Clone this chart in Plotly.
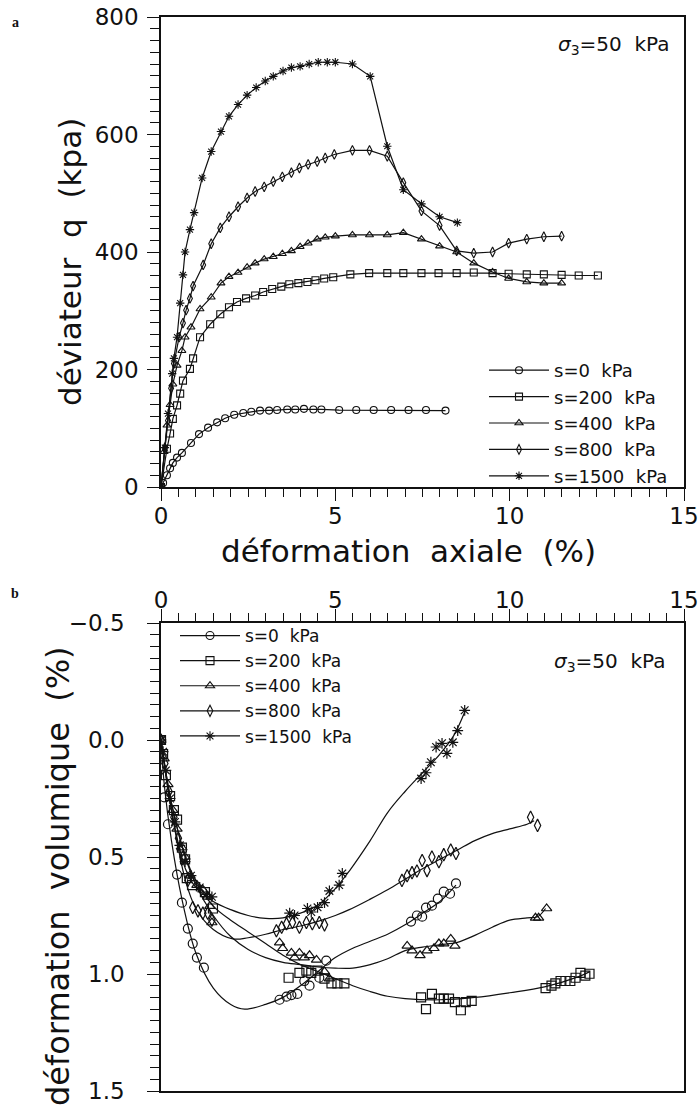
import plotly.graph_objects as go

# ---------------- Panel a : deviator q (kPa) vs axial strain (%) ----------------
a_s0_x = [0, 0.06, 0.17, 0.26, 0.34, 0.46, 0.6, 0.86, 1.09, 1.35, 1.61, 1.84, 2.1, 2.36, 2.59, 2.84,
          3.1, 3.33, 3.62, 3.85, 4.1, 4.37, 4.6, 5.11, 5.6, 6.1, 6.6, 7.1, 7.6, 8.16]
a_s0_y = [0, 7, 20, 32, 41, 50, 58, 75, 90, 101, 110, 117, 123, 126, 128, 130,
          130, 131, 132, 132, 133, 132, 132, 131, 131, 131, 131, 131, 131, 130]

a_s200_x = [0, 0.17, 0.26, 0.34, 0.46, 0.55, 0.63, 0.83, 0.92, 1.12, 1.41, 1.7, 1.95, 2.18, 2.44, 2.7,
            2.93, 3.19, 3.45, 3.68, 3.94, 4.2, 4.43, 4.68, 4.94, 5.43, 5.97, 6.49, 6.95, 7.47, 7.96,
            8.48, 8.97, 9.51, 9.97, 10.49, 10.98, 11.49, 11.98, 12.53]
a_s200_y = [0, 65, 91, 116, 139, 159, 181, 201, 219, 255, 277, 294, 306, 315, 321, 326,
            332, 337, 341, 345, 347, 349, 352, 355, 357, 362, 364, 364, 364, 364, 364,
            364, 365, 364, 363, 362, 362, 361, 360, 360]

a_s400_x = [0, 0.09, 0.17, 0.26, 0.34, 0.46, 0.6, 0.69, 0.86, 1.12, 1.44, 1.72, 1.95, 2.21, 2.47, 2.7,
            2.96, 3.22, 3.48, 3.74, 3.99, 4.22, 4.48, 4.71, 5.0, 5.49, 5.98, 6.49, 6.95, 7.47, 7.99,
            8.48, 8.97, 9.51, 9.97, 10.49, 10.98, 11.49]
a_s400_y = [0, 60, 105, 140, 175, 207, 232, 255, 272, 303, 323, 347, 358, 365, 374, 381,
            388, 392, 397, 402, 409, 415, 422, 425, 427, 429, 429, 429, 433, 422, 410,
            400, 381, 366, 355, 349, 347, 347]

a_s800_x = [0, 0.11, 0.2, 0.29, 0.37, 0.52, 0.63, 0.72, 0.83, 0.92, 1.21, 1.44, 1.7, 1.95, 2.21, 2.47,
            2.7, 2.96, 3.22, 3.48, 3.74, 3.97, 4.22, 4.48, 4.71, 4.97, 5.49, 5.98, 6.49, 6.95, 7.47,
            7.99, 8.48, 8.97, 9.51, 9.97, 10.49, 10.98, 11.49]
a_s800_y = [0, 67, 113, 168, 210, 255, 279, 301, 321, 342, 378, 414, 441, 460, 477, 492,
            503, 511, 520, 528, 535, 543, 549, 554, 560, 566, 573, 573, 563, 518, 470,
            445, 402, 398, 400, 415, 422, 426, 427]

a_s1500_x = [0, 0.11, 0.2, 0.32, 0.37, 0.46, 0.55, 0.63, 0.69, 0.83, 0.95, 1.18, 1.44, 1.72, 1.95,
             2.21, 2.47, 2.73, 2.99, 3.22, 3.5, 3.74, 3.99, 4.25, 4.51, 4.77, 5.0, 5.49, 6.0, 6.49,
             6.95, 7.47, 7.99, 8.5]
a_s1500_y = [0, 67, 125, 193, 219, 255, 313, 361, 400, 438, 467, 526, 571, 605, 631,
             651, 667, 680, 691, 699, 708, 714, 716, 720, 723, 723, 723, 720, 699, 580,
             506, 482, 460, 450]

# ---------------- Panel b : volumetric strain (%) vs axial strain (%) ----------------
b_s0_x = [0, 0.09, 0.2, 0.46, 0.6, 0.77, 0.91, 1.03, 1.23, 3.4, 3.6, 3.74, 3.91, 4.11, 4.26, 4.54,
          4.74, 7.17, 7.34, 7.49, 7.6, 7.77, 7.94, 8.11, 8.29, 8.46]
b_s0_y = [0, 0.245, 0.36, 0.575, 0.695, 0.806, 0.87, 0.93, 0.973, 1.11, 1.097, 1.09, 1.085, 1.03,
          1.05, 1.016, 0.943, 0.776, 0.75, 0.755, 0.716, 0.708, 0.678, 0.648, 0.657, 0.613]
b_s0_fx = [0, 0.1, 0.3, 0.6, 1.0, 1.5, 2.0, 2.4, 3.0, 3.5, 4.0, 4.5, 5.0, 5.5, 6.0, 6.5, 7.0, 7.5,
           8.0, 8.46]
b_s0_fy = [0, 0.2, 0.43, 0.68, 0.91, 1.06, 1.13, 1.15, 1.13, 1.1, 1.05, 0.99, 0.93, 0.89, 0.86,
           0.83, 0.79, 0.74, 0.69, 0.62]

b_s200_x = [0, 0.06, 0.14, 0.26, 0.37, 0.46, 0.6, 0.69, 0.74, 0.89, 1.26, 1.49, 3.66, 3.97, 4.17,
            4.31, 4.49, 4.69, 4.89, 5.06, 5.26, 7.46, 7.6, 7.77, 7.97, 8.11, 8.26, 8.43, 8.6, 8.74,
            8.91, 11.03, 11.2, 11.31, 11.46, 11.6, 11.74, 11.89, 12.03, 12.17, 12.29]
b_s200_y = [0, 0.06, 0.15, 0.24, 0.3, 0.34, 0.46, 0.51, 0.59, 0.62, 0.65, 0.72, 1.016, 0.995,
            0.986, 0.995, 0.986, 1.02, 1.04, 1.04, 1.04, 1.1, 1.15, 1.085, 1.105, 1.105, 1.105,
            1.12, 1.155, 1.12, 1.115, 1.06, 1.05, 1.04, 1.03, 1.03, 1.03, 1.016, 0.995, 1.007, 0.999]
b_s200_fx = [0, 0.3, 0.7, 1.0, 1.5, 2.0, 2.5, 3.0, 3.5, 4.0, 4.5, 5.0, 5.5, 6.0, 6.5, 7.0, 8.0,
             9.0, 10.0, 11.0, 12.0, 12.3]
b_s200_fy = [0, 0.27, 0.5, 0.6, 0.71, 0.77, 0.82, 0.87, 0.92, 0.96, 0.99, 1.02, 1.05, 1.075,
             1.095, 1.105, 1.11, 1.1, 1.08, 1.055, 1.01, 0.99]

b_s400_x = [0, 0.09, 0.2, 0.34, 0.46, 0.6, 0.69, 0.83, 1.03, 1.2, 1.34, 1.4, 1.46, 3.4, 3.49, 3.74,
            3.83, 3.97, 4.11, 4.26, 4.46, 4.69, 4.83, 7.06, 7.2, 7.43, 7.63, 7.83, 7.97, 8.11, 8.31,
            8.43, 10.74, 10.83, 11.06]
b_s400_y = [0, 0.08, 0.19, 0.3, 0.38, 0.46, 0.5, 0.58, 0.62, 0.64, 0.67, 0.71, 0.78, 0.866, 0.89,
            0.91, 0.93, 0.91, 0.93, 0.92, 0.94, 0.99, 1.02, 0.88, 0.9, 0.92, 0.9, 0.89, 0.87, 0.87,
            0.85, 0.88, 0.76, 0.76, 0.72]
b_s400_fx = [0, 0.3, 0.7, 1.0, 1.5, 2.0, 2.5, 3.0, 3.5, 4.0, 4.5, 5.0, 5.5, 6.0, 6.5, 7.0, 7.5,
             8.0, 8.5, 9.0, 9.5, 10.0, 10.5, 10.8, 11.03]
b_s400_fy = [0, 0.27, 0.5, 0.62, 0.75, 0.84, 0.895, 0.93, 0.95, 0.96, 0.97, 0.975, 0.975, 0.96,
             0.935, 0.9, 0.885, 0.875, 0.865, 0.835, 0.8, 0.77, 0.76, 0.755, 0.72]

b_s800_x = [0, 0.11, 0.23, 0.37, 0.5, 0.63, 0.77, 0.91, 1.06, 1.2, 1.34, 1.46, 3.31, 3.46, 3.6,
            3.77, 3.97, 4.17, 4.34, 4.54, 4.69, 6.91, 7.06, 7.2, 7.34, 7.49, 7.63, 7.77, 7.97, 8.11,
            8.31, 8.46, 10.6, 10.8]
b_s800_y = [0, 0.1, 0.22, 0.33, 0.42, 0.5, 0.6, 0.716, 0.73, 0.74, 0.74, 0.77, 0.815, 0.8, 0.785,
            0.78, 0.8, 0.78, 0.785, 0.78, 0.79, 0.6, 0.58, 0.567, 0.56, 0.515, 0.558, 0.5, 0.52,
            0.49, 0.47, 0.485, 0.33, 0.365]
b_s800_fx = [0, 0.3, 0.7, 1.0, 1.5, 2.06, 2.5, 3.0, 3.5, 4.0, 4.5, 5.0, 5.4, 6.0, 6.5, 7.0, 7.5,
             8.0, 8.5, 9.0, 9.5, 10.0, 10.5, 10.7]
b_s800_fy = [0, 0.3, 0.6, 0.72, 0.81, 0.85, 0.845, 0.83, 0.81, 0.795, 0.775, 0.75, 0.725, 0.68,
             0.64, 0.595, 0.55, 0.51, 0.47, 0.43, 0.4, 0.38, 0.36, 0.345]

b_s1500_x = [0, 0.06, 0.14, 0.26, 0.4, 0.54, 0.69, 0.86, 1.11, 1.3, 1.46, 3.69, 3.83, 4.2, 4.31,
             4.49, 4.69, 4.83, 5.11, 5.2, 7.46, 7.6, 7.74, 7.89, 8.06, 8.2, 8.37, 8.51, 8.71]
b_s1500_y = [0, 0.05, 0.13, 0.25, 0.35, 0.45, 0.52, 0.58, 0.63, 0.66, 0.67, 0.74, 0.75, 0.72,
             0.735, 0.715, 0.695, 0.645, 0.62, 0.57, 0.165, 0.14, 0.095, 0.03, 0.014, 0.057, 0.01,
             -0.04, -0.127]
b_s1500_fx = [0, 0.3, 0.7, 1.0, 1.5, 2.0, 2.5, 3.0, 3.5, 4.0, 4.5, 5.0, 5.4, 6.0, 6.5, 7.0, 7.5,
              8.0, 8.4, 8.74]
b_s1500_fy = [0, 0.3, 0.55, 0.63, 0.69, 0.725, 0.75, 0.762, 0.76, 0.74, 0.705, 0.635, 0.56, 0.43,
              0.31, 0.22, 0.14, 0.06, -0.02, -0.13]

series_labels = ["s=0  kPa", "s=200  kPa", "s=400  kPa", "s=800  kPa", "s=1500  kPa"]
symbols = ["circle-open", "square-open", "triangle-up-open", "diamond-tall-open", "asterisk-open"]

a_data = [(a_s0_x, a_s0_y), (a_s200_x, a_s200_y), (a_s400_x, a_s400_y), (a_s800_x, a_s800_y),
          (a_s1500_x, a_s1500_y)]
b_pts = [(b_s0_x, b_s0_y), (b_s200_x, b_s200_y), (b_s400_x, b_s400_y), (b_s800_x, b_s800_y),
         (b_s1500_x, b_s1500_y)]
b_fit = [(b_s0_fx, b_s0_fy), (b_s200_fx, b_s200_fy), (b_s400_fx, b_s400_fy),
         (b_s800_fx, b_s800_fy), (b_s1500_fx, b_s1500_fy)]

FONT = "DejaVu Sans"
BLACK = "#111111"

fig = go.Figure()

for (x, y), lab, sym in zip(a_data, series_labels, symbols):
    fig.add_trace(go.Scatter(
        x=x, y=y, mode="lines+markers", name=lab, xaxis="x", yaxis="y", legend="legend",
        line=dict(color=BLACK, width=1.2),
        marker=dict(symbol=sym, size=7, color=BLACK, line=dict(width=1.1, color=BLACK)),
    ))

for (x, y), (fx, fy), lab, sym in zip(b_pts, b_fit, series_labels, symbols):
    fig.add_trace(go.Scatter(
        x=fx, y=fy, mode="lines", line=dict(color=BLACK, width=1.2, shape="spline", smoothing=1.0),
        xaxis="x2", yaxis="y2", showlegend=False, hoverinfo="skip",
    ))
    fig.add_trace(go.Scatter(
        x=x, y=y, mode="markers", xaxis="x2", yaxis="y2", showlegend=False,
        marker=dict(symbol=sym, size=9, color=BLACK, line=dict(width=1.2, color=BLACK)),
    ))
    # legend entry for panel b (markers above a line)
    fig.add_trace(go.Scatter(
        x=[None], y=[None], mode="lines+markers", name=lab, xaxis="x2", yaxis="y2",
        legend="legend2",
        line=dict(color=BLACK, width=1.2),
        marker=dict(symbol=sym, size=8, color=BLACK, line=dict(width=1.1, color=BLACK)),
    ))

XDOM = [161 / 699, 684 / 699]
tickfont = dict(family=FONT, size=23, color=BLACK)
common_ax = dict(showgrid=False, zeroline=False, showline=True, linecolor=BLACK, linewidth=1.5,
                 ticks="outside", tickcolor=BLACK, tickwidth=1.3, tickfont=tickfont,
                 automargin=False)

fig.update_layout(
    width=699, height=1111, autosize=False,
    margin=dict(l=0, r=0, t=0, b=0),
    paper_bgcolor="white", plot_bgcolor="white",
    xaxis=dict(domain=XDOM, anchor="y", range=[0, 15], tickvals=[0, 5, 10, 15], ticklen=12,
               mirror=True, ticklabeloverflow="allow",
               minor=dict(dtick=0.5, ticklen=8, ticks="outside", tickcolor=BLACK, tickwidth=1.2),
               ticklabelstandoff=-4, **common_ax),
    yaxis=dict(domain=[1 - 487 / 1111, 1 - 17 / 1111], anchor="x", range=[0, 800], dtick=200,
               ticklen=12, mirror=True, ticklabeloverflow="allow",
               minor=dict(dtick=20, ticklen=9, ticks="outside", tickcolor=BLACK, tickwidth=1.2),
               ticklabelstandoff=4, **common_ax),
    xaxis2=dict(domain=XDOM, anchor="y2", side="top", range=[0, 15], tickvals=[0, 5, 10, 15],
                ticklen=12, mirror=True, ticklabeloverflow="allow",
                minor=dict(dtick=0.5, ticklen=8, ticks="outside", tickcolor=BLACK, tickwidth=1.2),
                ticklabelstandoff=-8, **common_ax),
    yaxis2=dict(domain=[1 - 1091 / 1111, 1 - 623 / 1111], anchor="x2", range=[1.5, -0.5],
                tickvals=[-0.5, 0.0, 0.5, 1.0, 1.5], tickformat=".1f", ticklen=12, mirror=True,
                ticklabeloverflow="allow",
                minor=dict(dtick=0.05, ticklen=9, ticks="outside", tickcolor=BLACK, tickwidth=1.2),
                ticklabelstandoff=18, **common_ax),
    legend=dict(x=484 / 699, y=1 - 352 / 1111, xanchor="left", yanchor="top",
                bgcolor="rgba(0,0,0,0)", font=dict(family=FONT, size=18, color=BLACK),
                itemwidth=60, tracegroupgap=0),
    legend2=dict(x=175 / 699, y=1 - 618 / 1111, xanchor="left", yanchor="top",
                 bgcolor="rgba(0,0,0,0)", font=dict(family=FONT, size=17, color=BLACK),
                 itemwidth=60, tracegroupgap=0),
    showlegend=True,
)

title_font = dict(family=FONT, size=31, color=BLACK)
ann = [
    dict(text="déformation  axiale  (%)", x=408 / 699, y=1 - 551 / 1111, xref="paper", yref="paper",
         showarrow=False, font=title_font, xanchor="center", yanchor="middle"),
    dict(text="déviateur  q  (kpa)", x=70 / 699, y=1 - 262 / 1111, xref="paper", yref="paper",
         showarrow=False, font=title_font, textangle=-90, xanchor="center", yanchor="middle"),
    dict(text="déformation  volumique  (%)", x=58 / 699, y=1 - 876 / 1111, xref="paper",
         yref="paper", showarrow=False, font=dict(family=FONT, size=32, color=BLACK),
         textangle=-90, xanchor="center", yanchor="middle"),
    dict(text="<i>σ</i><sub>3</sub>=50  kPa", x=672 / 699, y=1 - 45 / 1111, xref="paper",
         yref="paper", showarrow=False, font=dict(family=FONT, size=20, color=BLACK),
         xanchor="right", yanchor="middle"),
    dict(text="<i>σ</i><sub>3</sub>=50  kPa", x=668 / 699, y=1 - 662 / 1111, xref="paper",
         yref="paper", showarrow=False, font=dict(family=FONT, size=20, color=BLACK),
         xanchor="right", yanchor="middle"),
    dict(text="<b>a</b>", x=15 / 699, y=1 - 22 / 1111, xref="paper", yref="paper", showarrow=False,
         font=dict(family="Liberation Serif", size=14, color=BLACK), xanchor="center",
         yanchor="middle"),
    dict(text="<b>b</b>", x=15 / 699, y=1 - 593 / 1111, xref="paper", yref="paper",
         showarrow=False, font=dict(family="Liberation Serif", size=14, color=BLACK),
         xanchor="center", yanchor="middle"),
]
fig.update_layout(annotations=ann)

fig.write_html("out.html")
